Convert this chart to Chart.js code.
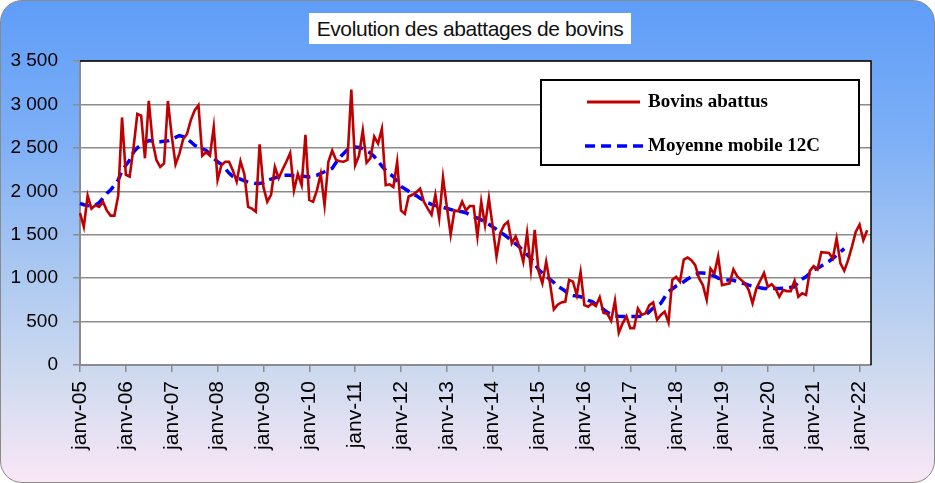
<!DOCTYPE html>
<html>
<head>
<meta charset="utf-8">
<script src="https://cdn.jsdelivr.net/npm/chart.js@4.4.1/dist/chart.umd.min.js"></script>
<style>
  html, body { margin: 0; padding: 0; background: #ffffff; }
  #cadre {
    position: absolute; left: 0; top: 0; width: 933px; height: 481px;
    border: 1px solid #8a8a8a; border-radius: 22px;
    background: linear-gradient(to bottom, #5e9df8 0%, #7fb0f6 30%, #a9c7f1 55%, #cfdaef 78%, #f9e7f6 100%);
    overflow: hidden;
  }
  #titre {
    position: absolute; left: 309px; top: 13px; width: 322px; height: 31px;
    background: #ffffff; font-family: "Liberation Sans", Arial, sans-serif;
    font-size: 21px; line-height: 31px; text-align: center; color: #111;
    letter-spacing: -0.4px; white-space: nowrap;
  }
  #zone { position: absolute; left: 0; top: 0; width: 935px; height: 483px; }
</style>
</head>
<body>
<div id="cadre"></div>
<div id="titre">Evolution des abattages de bovins</div>
<div id="zone"><canvas id="graphe" width="935" height="483"></canvas></div>
<script>
// mois et annees de l'axe
var mois = ['janv', 'févr', 'mars', 'avr', 'mai', 'juin', 'juil', 'août', 'sept', 'oct', 'nov', 'déc'];
var annees = ['05', '06', '07', '08', '09', '10', '11', '12', '13', '14', '15', '16', '17', '18', '19', '20', '21', '22'];

// abattages mensuels (milliers de tetes)
var bovinsAbattus = [
  1750, 1590, 1950, 1800, 1840, 1820, 1880, 1780, 1720, 1720, 1950, 2850,
  2190, 2170, 2500, 2890, 2870, 2380, 3040, 2570, 2360, 2280, 2320, 3040,
  2640, 2310, 2430, 2600, 2660, 2820, 2930, 2990, 2410, 2450, 2410, 2740,
  2130, 2300, 2340, 2340, 2240, 2110, 2345, 2200, 1820, 1800, 1765, 2540,
  2050, 1880, 1960, 2280, 2150, 2250, 2340, 2440, 2010, 2200, 2070, 2650,
  1900, 1880, 2010, 2200, 1840, 2340, 2470, 2360, 2345, 2340, 2360, 3170,
  2300, 2410, 2700, 2330, 2380, 2630, 2550, 2720, 2070, 2080, 2050, 2340,
  1780, 1740, 1940, 1960, 1990, 2030, 1880, 1800, 1730, 1960, 1690, 2160,
  1820, 1500, 1780, 1770, 1880, 1780, 1830, 1830, 1480, 1880, 1610, 1920,
  1590, 1250, 1520, 1610, 1650, 1400, 1480, 1360, 1190, 1520, 1100, 1555,
  1080, 940, 1190, 940, 640, 695, 720, 730, 980, 960, 806, 1070,
  690, 670, 710, 680, 780, 600, 590, 510, 740, 370, 480, 560,
  424, 424, 650, 576, 595, 690, 720, 520, 576, 614, 490, 980,
  1015, 960, 1214, 1237, 1206, 1150, 1000, 920, 750, 1110, 1054, 1250,
  920, 930, 940, 1100, 1020, 980, 940, 863, 710, 880, 970, 1061,
  900, 930, 880, 786, 863, 851, 851, 970, 786, 825, 806, 1084,
  1138, 1100, 1300, 1295, 1290, 1226, 1455, 1170, 1084, 1207, 1360, 1532,
  1615, 1436, 1551
];

// moyenne mobile centree sur 12 mois
var moyenneMobile = [
  1860, 1845, 1835, 1830, 1840, 1870, 1920, 1975, 2015, 2070, 2130, 2240,
  2300, 2360, 2450, 2500, 2530, 2560, 2585, 2580, 2570, 2570, 2575, 2580,
  2600, 2620, 2640, 2630, 2605, 2570, 2530, 2510, 2490, 2470, 2430, 2380,
  2340, 2310, 2260, 2210, 2170, 2150, 2140, 2120, 2108, 2100, 2090, 2090,
  2100, 2128, 2140, 2155, 2170, 2185, 2185, 2185, 2180, 2180, 2175, 2170,
  2166, 2175, 2185, 2205, 2225, 2245, 2265, 2330, 2390, 2435, 2480, 2500,
  2510, 2505, 2490, 2465, 2440, 2400, 2350, 2290, 2240, 2200, 2170, 2110,
  2055, 2030, 2000, 1970, 1950, 1920, 1895, 1868, 1850, 1835, 1825, 1815,
  1803, 1790, 1780, 1772, 1765, 1753, 1730, 1707, 1690, 1670, 1650, 1620,
  1590, 1560, 1525, 1500, 1465, 1430, 1395, 1360, 1310, 1270, 1230, 1165,
  1100, 1060, 1025, 985, 950, 905, 880, 850, 810, 800, 795, 786,
  765, 745, 730, 700, 672, 640, 605, 585, 565, 560, 557, 557,
  557, 557, 557, 565, 576, 615, 653, 680, 710, 780, 844, 875,
  909, 935, 959, 990, 1016, 1040, 1060, 1058, 1054, 1040, 1025, 1000,
  985, 978, 978, 975, 960, 947, 935, 920, 910, 901, 890, 882,
  882, 882, 882, 882, 885, 890, 895, 901, 960, 990, 1016, 1055,
  1092, 1115, 1140, 1169, 1195, 1226, 1265, 1302, 1340
];

var nomsSeries = ['Bovins abattus', 'Moyenne mobile 12C'];
var nbMois = 208;

var etiquettes = [];
for (var i = 0; i < nbMois; i++) {
  etiquettes.push(mois[i % 12] + '-' + annees[Math.floor(i / 12)]);
}

function formatMilliers(v) {
  if (v >= 1000) {
    var r = String(v % 1000);
    while (r.length < 3) r = '0' + r;
    return Math.floor(v / 1000) + ' ' + r;
  }
  return String(v);
}

// fond blanc, cadre et legende
var decor = {
  id: 'decor',
  beforeDraw: function (chart) {
    var a = chart.chartArea, c = chart.ctx;
    c.save();
    c.fillStyle = '#ffffff';
    c.fillRect(a.left, a.top, a.right - a.left, a.bottom - a.top);
    c.restore();
  },
  afterDraw: function (chart) {
    var a = chart.chartArea, c = chart.ctx;
    c.save();
    c.strokeStyle = '#000000';
    c.lineWidth = 1.5;
    c.beginPath();
    c.moveTo(a.left, a.top);
    c.lineTo(a.right, a.top);
    c.lineTo(a.right, a.bottom);
    c.stroke();

    // boite de legende
    c.fillStyle = '#ffffff';
    c.fillRect(541, 80, 318, 85);
    c.strokeStyle = '#000000';
    c.lineWidth = 2;
    c.strokeRect(541, 80, 318, 85);

    c.lineWidth = 3;
    c.strokeStyle = '#c00000';
    c.beginPath();
    c.moveTo(587, 102);
    c.lineTo(640, 102);
    c.stroke();

    c.lineWidth = 3.5;
    c.strokeStyle = '#0000ff';
    c.setLineDash([10, 6]);
    c.beginPath();
    c.moveTo(585, 146);
    c.lineTo(643, 146);
    c.stroke();
    c.setLineDash([]);

    c.fillStyle = '#000000';
    c.font = 'bold 19px "Liberation Serif", "Times New Roman", serif';
    c.textBaseline = 'middle';
    c.textAlign = 'left';
    c.fillText(nomsSeries[0], 648, 102);
    c.fillText(nomsSeries[1], 648, 146);
    c.restore();
  }
};

var ctx = document.getElementById('graphe').getContext('2d');
var graphe = new Chart(ctx, {
  type: 'line',
  data: {
    labels: etiquettes,
    datasets: [
      {
        label: nomsSeries[0],
        data: bovinsAbattus,
        borderColor: '#c00000',
        borderWidth: 2.6,
        pointRadius: 0,
        tension: 0,
        fill: false
      },
      {
        label: nomsSeries[1],
        data: moyenneMobile,
        borderColor: '#0000ff',
        borderWidth: 3.5,
        borderDash: [10, 6],
        pointRadius: 0,
        tension: 0,
        fill: false
      }
    ]
  },
  options: {
    responsive: false,
    animation: false,
    layout: { padding: { left: 0, top: 61, right: 64, bottom: 0 } },
    plugins: {
      legend: { display: false },
      tooltip: { enabled: false }
    },
    scales: {
      x: {
        offset: false,
        afterFit: function (s) { s.height = 118; },
        grid: {
          drawOnChartArea: false,
          color: '#8c8c8c',
          lineWidth: 1.5,
          tickLength: 7
        },
        border: { color: '#8c8c8c', width: 2 },
        ticks: {
          autoSkip: false,
          maxRotation: 90,
          minRotation: 90,
          padding: 9,
          color: '#000000',
          font: { family: '"Liberation Sans", Arial, sans-serif', size: 21 },
          callback: function (v, i) {
            return i % 12 === 0 ? this.getLabelForValue(v) : null;
          }
        }
      },
      y: {
        min: 0,
        max: 3500,
        afterFit: function (s) { s.width = 80; },
        grid: {
          color: '#8c8c8c',
          lineWidth: 1.5,
          tickLength: 7
        },
        border: { color: '#8c8c8c', width: 2 },
        ticks: {
          stepSize: 500,
          padding: 15,
          color: '#000000',
          font: { family: '"Liberation Sans", Arial, sans-serif', size: 19 },
          callback: function (v) { return formatMilliers(v); }
        }
      }
    }
  },
  plugins: [decor]
});
</script>
</body>
</html>
